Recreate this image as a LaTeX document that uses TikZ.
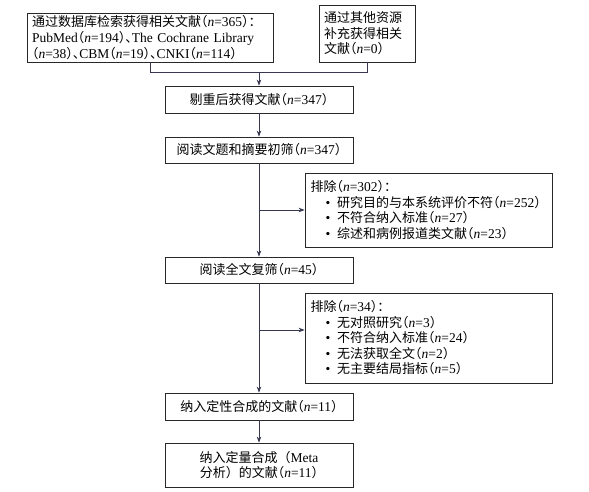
\documentclass[tikz,border=0pt]{standalone}
\usepackage{fontspec}
\setmainfont{Liberation Serif}
\newfontfamily\cjk[Scale=0.963]{Noto Sans CJK SC}
\newfontfamily\cjkh[Scale=0.963,RawFeature=+halt]{Noto Sans CJK SC}
\usetikzlibrary{arrows.meta}
\newcommand\zh[1]{{\cjk #1}}
\newcommand\zhh[1]{{\cjkh #1}}
\newcommand\nn[1]{{\cjkh （}\textit{n}=#1{\cjkh ）}}
\newcommand\bul{\hspace*{15pt}•\hspace{7pt}}
\definecolor{boxc}{RGB}{40,40,40}
\definecolor{linec}{RGB}{55,55,80}
\begin{document}
\begin{tikzpicture}[x=1pt,y=-1pt,
  box/.style={draw=boxc, line width=0.8pt, inner xsep=6pt, inner ysep=2pt,
    font=\fontsize{13.5}{15.5}\selectfont, fill=white},
  lbox/.style={box, align=left},
  cbox/.style={box, align=center, text width=176pt},
  ebox/.style={lbox, inner xsep=5.5pt, text width=236pt},
  conn/.style={draw=linec, line width=0.8pt},
  arr/.style={conn, -{Stealth[length=6pt,width=4.5pt]}}]
\useasboundingbox[fill=white] (0,0) rectangle (589,491);

\node[lbox, inner xsep=5pt, text width=236pt, minimum height=49pt,
      font=\fontsize{13.5}{16}\selectfont] (b1) at (150,37.5)
  {\zh{通过数据库检索获得相关文献}\nn{365}\zh{：}\\
   PubMed\nn{194}\zhh{、}The Cochrane Library\\
   \nn{38}\zhh{、}CBM\nn{19}\zhh{、}CNKI\nn{114}};
\node[lbox, inner xsep=5pt, text width=86pt, minimum height=57pt] (b2) at (367,33.5)
  {\zh{通过其他资源}\\\zh{补充获得相关}\\\zh{文献}\nn{0}};
\node[cbox, minimum height=27pt] (b3) at (259,99.5) {\zh{剔重后获得文献}\nn{347}};
\node[cbox, minimum height=26pt] (b4) at (259,150) {\zh{阅读文题和摘要初筛}\nn{347}};
\node[ebox, minimum height=74pt] (e1) at (428.5,210)
  {\zh{排除}\nn{302}\zh{：}\\
   \bul\zh{研究目的与本系统评价不符}\nn{252}\\
   \bul\zh{不符合纳入标准}\nn{27}\\
   \bul\zh{综述和病例报道类文献}\nn{23}};
\node[cbox, minimum height=26pt] (b5) at (259,270) {\zh{阅读全文复筛}\nn{45}};
\node[ebox, minimum height=90pt] (e2) at (428.5,338)
  {\zh{排除}\nn{34}\zh{：}\\
   \bul\zh{无对照研究}\nn{3}\\
   \bul\zh{不符合纳入标准}\nn{24}\\
   \bul\zh{无法获取全文}\nn{2}\\
   \bul\zh{无主要结局指标}\nn{5}};
\node[cbox, minimum height=27pt] (b6) at (259,406.5) {\zh{纳入定性合成的文献}\nn{11}};
\node[cbox, minimum height=44pt] (b7) at (259,465)
  {\zh{纳入定量合成（}Meta\\\zh{分析）的文献}\nn{11}};

\coordinate (j) at (259,72);
\coordinate (k1) at (259,210);
\coordinate (k2) at (259,330);
\draw[conn] (b1.south) |- (j);
\draw[conn] (b2.south) |- (j);
\draw[arr] (j) -- (b3.north);
\draw[arr] (b3) -- (b4);
\draw[arr] (b4) -- (b5);
\draw[arr] (k1) -- (e1.west);
\draw[arr] (b5) -- (b6);
\draw[arr] (k2) -- (k2 -| e2.west);
\draw[arr] (b6) -- (b7);
\end{tikzpicture}
\end{document}
